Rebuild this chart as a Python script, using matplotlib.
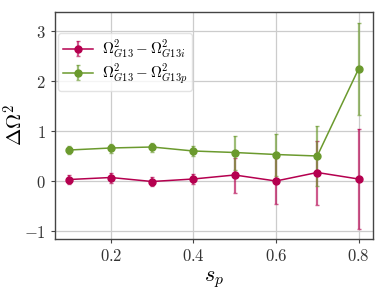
import matplotlib
matplotlib.use("Agg")
import matplotlib.pyplot as plt
from matplotlib.ticker import FuncFormatter

sp = [0.1, 0.2, 0.3, 0.4, 0.5, 0.6, 0.7, 0.8]
d_i = [0.03, 0.07, -0.01, 0.04, 0.12, 0.00, 0.17, 0.04]
e_i = [0.09, 0.10, 0.09, 0.10, 0.35, 0.46, 0.64, 1.00]
d_p = [0.62, 0.66, 0.68, 0.60, 0.57, 0.53, 0.50, 2.24]
e_p = [0.08, 0.09, 0.09, 0.10, 0.34, 0.42, 0.60, 0.92]

lab_i = r'$\Omega^2_{G13}-\Omega^2_{G13i}$'
lab_p = r'$\Omega^2_{G13}-\Omega^2_{G13p}$'

c_i = '#b5004f'
c_p = '#6b9a2e'

plt.rcParams['mathtext.fontset'] = 'cm'
plt.rcParams['font.family'] = 'serif'
plt.rcParams['font.serif'] = ['DejaVu Serif']

fig = plt.figure(figsize=(3.86, 2.9), dpi=100)
ax = fig.add_axes([55/386, 1-239/290, (373-55)/386, (239-12)/290])

for d, e, c, lab in [(d_i, e_i, c_i, lab_i), (d_p, e_p, c_p, lab_p)]:
    ax.errorbar(sp, d, yerr=e, color=c, marker='o', ms=5, lw=1.1,
                elinewidth=1.6, capsize=1.5, capthick=1.0, ecolor=c,
                label=lab, zorder=3)
# lighten error bars
for cont in ax.containers:
    for art in cont[2]:
        art.set_alpha(0.65)
    for cap in cont[1]:
        cap.set_alpha(0.65)

ax.grid(True, color='#cccccc', lw=0.9)
ax.set_axisbelow(True)
for s in ax.spines.values():
    s.set_color('#444444')
    s.set_linewidth(1.0)
ax.tick_params(direction='out', length=3, width=0.8, color='#444444', labelsize=12, labelcolor='#333333')
ax.set_xticks([0.2, 0.4, 0.6, 0.8])
ax.set_yticks([-1, 0, 1, 2, 3])
fmt = lambda v, p: r'$%g$' % v
ax.xaxis.set_major_formatter(FuncFormatter(fmt))
ax.yaxis.set_major_formatter(FuncFormatter(fmt))
ax.set_xlim(0.065, 0.835)
ax.set_ylim(-1.16, 3.38)
ax.set_xlabel(r'$s_p$', fontsize=16, labelpad=2)
ax.set_ylabel(r'$\Delta\Omega^2$', fontsize=15)
ax.yaxis.set_label_coords(-0.09, 0.5)
leg = ax.legend(loc='upper left', bbox_to_anchor=(3/318, 1-21/227), borderaxespad=0,
                fontsize=10.8, frameon=True, framealpha=0.8,
                edgecolor='#dddddd', handlelength=2.0, handletextpad=0.6,
                borderpad=0.3, labelspacing=0.1)
fig.savefig('out.png', dpi=100)
